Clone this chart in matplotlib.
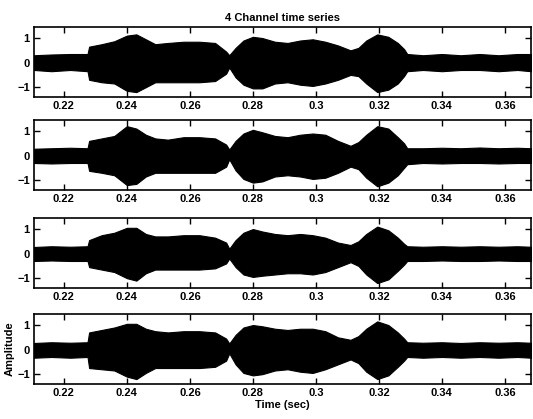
import numpy as np
import matplotlib
matplotlib.use("Agg")
import matplotlib.pyplot as plt

plt.rcParams['font.family'] = ['Liberation Sans', 'DejaVu Sans']
plt.rcParams['font.weight'] = 'bold'
plt.rcParams['axes.titleweight'] = 'bold'
plt.rcParams['axes.labelweight'] = 'bold'
plt.rcParams['font.size'] = 8

# envelope of each channel (time in sec)
t = [0.2105, 0.216, 0.222, 0.2275, 0.228, 0.232, 0.236, 0.240, 0.243, 0.246,
     0.249, 0.253, 0.258, 0.263, 0.268, 0.2715, 0.2725, 0.2745, 0.277, 0.280,
     0.283, 0.287, 0.291, 0.295, 0.299, 0.303, 0.307, 0.311, 0.3135, 0.316,
     0.3195, 0.323, 0.326, 0.328, 0.329, 0.334, 0.340, 0.346, 0.352, 0.358,
     0.364, 0.3683]

ch1_upper = [0.30, 0.33, 0.35, 0.35, 0.65, 0.75, 0.87, 1.10, 1.15, 0.95,
             0.75, 0.80, 0.85, 0.85, 0.80, 0.45, 0.30, 0.60, 0.90, 1.05,
             1.00, 0.85, 0.80, 0.90, 0.95, 0.85, 0.70, 0.50, 0.60, 0.90,
             1.15, 1.05, 0.80, 0.55, 0.35, 0.30, 0.35, 0.30, 0.35, 0.30,
             0.35, 0.35]
ch1_lower = [-0.30, -0.35, -0.30, -0.35, -0.70, -0.80, -0.85, -1.15, -1.20, -1.00,
             -0.80, -0.80, -0.80, -0.80, -0.75, -0.45, -0.20, -0.60, -0.90, -1.05,
             -1.05, -0.85, -0.80, -0.90, -0.95, -0.85, -0.70, -0.50, -0.55, -0.85,
             -1.20, -1.10, -0.85, -0.55, -0.35, -0.30, -0.35, -0.30, -0.30, -0.35,
             -0.30, -0.35]

ch2_upper = [0.28, 0.30, 0.32, 0.30, 0.60, 0.70, 0.80, 1.20, 1.10, 0.85,
             0.70, 0.65, 0.75, 0.75, 0.70, 0.45, 0.25, 0.60, 0.90, 1.05,
             0.95, 0.80, 0.75, 0.85, 0.90, 0.85, 0.60, 0.40, 0.55, 0.85,
             1.20, 1.10, 0.75, 0.50, 0.30, 0.30, 0.32, 0.30, 0.33, 0.30,
             0.32, 0.30]
ch2_lower = [-0.30, -0.32, -0.30, -0.30, -0.62, -0.70, -0.80, -1.20, -1.15, -0.85,
             -0.70, -0.70, -0.70, -0.70, -0.70, -0.45, -0.15, -0.60, -0.95, -1.10,
             -1.05, -0.85, -0.80, -0.85, -0.95, -0.90, -0.70, -0.45, -0.55, -0.90,
             -1.25, -1.10, -0.80, -0.50, -0.35, -0.30, -0.32, -0.30, -0.30, -0.32,
             -0.30, -0.30]

ch3_upper = [0.27, 0.30, 0.28, 0.30, 0.55, 0.75, 0.85, 1.05, 1.05, 0.80,
             0.70, 0.70, 0.75, 0.75, 0.65, 0.45, 0.20, 0.55, 0.85, 1.00,
             0.90, 0.80, 0.75, 0.80, 0.75, 0.65, 0.45, 0.35, 0.50, 0.80,
             1.10, 0.95, 0.65, 0.40, 0.30, 0.28, 0.30, 0.28, 0.30, 0.28,
             0.30, 0.28]
ch3_lower = [-0.30, -0.28, -0.30, -0.30, -0.55, -0.65, -0.75, -1.00, -1.10, -0.80,
             -0.65, -0.65, -0.65, -0.65, -0.60, -0.40, -0.20, -0.55, -0.85, -0.95,
             -0.90, -0.85, -0.80, -0.80, -0.85, -0.75, -0.55, -0.35, -0.50, -0.85,
             -1.20, -1.05, -0.70, -0.45, -0.30, -0.30, -0.28, -0.30, -0.30, -0.28,
             -0.30, -0.30]

ch4_upper = [0.27, 0.30, 0.28, 0.30, 0.70, 0.80, 0.90, 1.05, 1.05, 0.85,
             0.75, 0.70, 0.75, 0.75, 0.70, 0.45, 0.25, 0.60, 0.90, 1.00,
             0.95, 0.85, 0.80, 0.85, 0.85, 0.75, 0.50, 0.40, 0.55, 0.85,
             1.15, 1.00, 0.70, 0.45, 0.30, 0.28, 0.30, 0.27, 0.30, 0.28,
             0.30, 0.28]
ch4_lower = [-0.33, -0.30, -0.33, -0.30, -0.75, -0.80, -0.85, -1.10, -1.20, -0.95,
             -0.75, -0.75, -0.75, -0.75, -0.70, -0.45, -0.15, -0.60, -0.95, -1.05,
             -1.00, -0.85, -0.80, -0.90, -0.95, -0.80, -0.60, -0.40, -0.55, -0.90,
             -1.20, -1.05, -0.70, -0.45, -0.30, -0.33, -0.30, -0.33, -0.30, -0.33,
             -0.30, -0.33]

uppers = [ch1_upper, ch2_upper, ch3_upper, ch4_upper]
lowers = [ch1_lower, ch2_lower, ch3_lower, ch4_lower]

xticks = [0.22, 0.24, 0.26, 0.28, 0.30, 0.32, 0.34, 0.36]
xticklabels = ['0.22', '0.24', '0.26', '0.28', '0.3', '0.32', '0.34', '0.36']
yticks = [-1, 0, 1]

W, H = 533, 419
fig = plt.figure(figsize=(W / 100, H / 100), dpi=100)

left_px, right_px = 34, 531
tops_px = [27, 120, 218, 314]
h_px = 70

axes = []
for i in range(4):
    ax = fig.add_axes([left_px / W, 1 - (tops_px[i] + h_px) / H,
                       (right_px - left_px) / W, h_px / H])
    ax.fill_between(t, lowers[i], uppers[i], color='black', linewidth=0.8,
                    edgecolor='black')
    ax.set_xlim(0.2105, 0.3683)
    ax.set_ylim(-1.4, 1.45)
    ax.set_xticks(xticks)
    ax.set_xticklabels(xticklabels)
    ax.set_yticks(yticks)
    ax.tick_params(direction='in', top=True, right=True, length=4, width=1,
                   labelsize=8, pad=3)
    for s in ax.spines.values():
        s.set_linewidth(1.2)
    axes.append(ax)

axes[0].set_title('4 Channel time series', fontsize=8, pad=4)
axes[3].set_xlabel('Time (sec)', fontsize=8, labelpad=1)
axes[3].set_ylabel('Amplitude', fontsize=8, labelpad=2)

fig.savefig('out.png', dpi=100)
